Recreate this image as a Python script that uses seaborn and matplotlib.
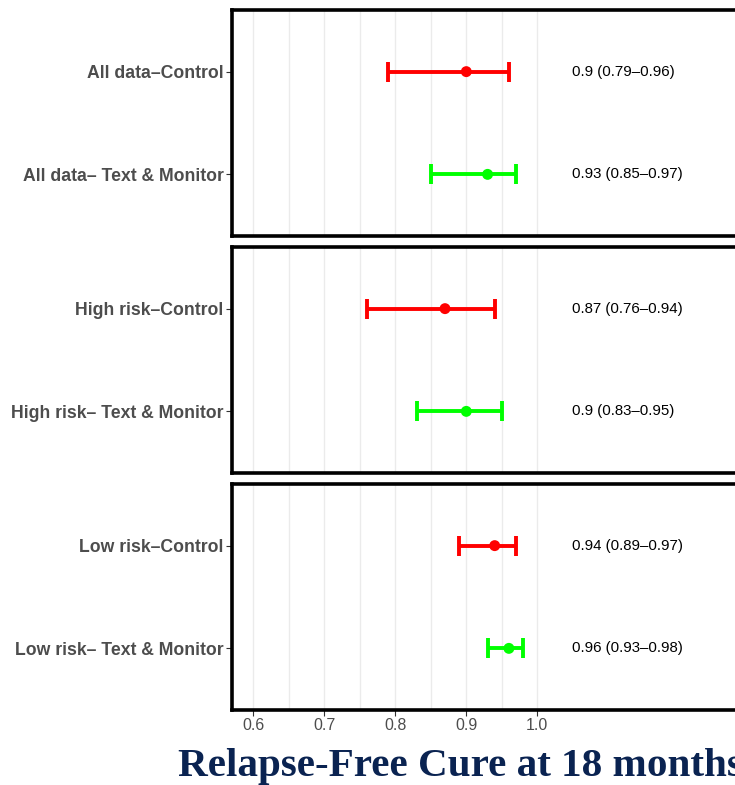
import matplotlib
matplotlib.use("Agg")
import matplotlib.pyplot as plt
import seaborn as sns
import pandas as pd

# Relapse-free cure estimates with 95% confidence intervals
groups = ["All data", "High risk", "Low risk"]
arms = ["Control", " Text & Monitor"]
estimate = [0.90, 0.93, 0.87, 0.90, 0.94, 0.96]
lower = [0.79, 0.85, 0.76, 0.83, 0.89, 0.93]
upper = [0.96, 0.97, 0.94, 0.95, 0.97, 0.98]
arm_colors = {"Control": "#FF0000", " Text & Monitor": "#00FF00"}
x_ticks = [0.6, 0.7, 0.8, 0.9, 1.0]
title = "Relapse-Free Cure at 18 months"

rows = []
i = 0
for g in groups:
    for j, a in enumerate(arms):
        rows.append(dict(group=g, arm=a, pos=j, est=estimate[i], lo=lower[i], hi=upper[i],
                         label=f"{g}\u2013{a}",
                         txt=f"{estimate[i]:g} ({lower[i]:g}\u2013{upper[i]:g})"))
        i += 1
df = pd.DataFrame(rows)

sns.set_theme(style="white")
plt.rcParams["font.family"] = ["Liberation Sans", "DejaVu Sans"]

W, H = 735, 785
fig = plt.figure(figsize=(W / 100, H / 100), dpi=100)

xmin, xmax = 0.57, 1.30
px_per_unit = 710
left_px = 232
panel_tops = [10, 247, 484]
panel_h = 226
ax_w = (xmax - xmin) * px_per_unit

for k, g in enumerate(groups):
    top = panel_tops[k]
    ax = fig.add_axes([left_px / W, 1 - (top + panel_h) / H, ax_w / W, panel_h / H])
    sub = df[df.group == g]

    # light vertical guides every 0.05 up to 1.0
    for gx in [0.6 + 0.05 * n for n in range(9)]:
        ax.axvline(gx, color="#EBEBEB", lw=1.0, zorder=0)

    for _, r in sub.iterrows():
        ax.errorbar(r.est, r.pos, xerr=[[r.est - r.lo], [r.hi - r.est]],
                    fmt="none", ecolor=arm_colors[r.arm], elinewidth=2.8,
                    capsize=7, capthick=2.8, zorder=2)
        ax.text(1.049, r.pos, r.txt, va="center", ha="left", fontsize=10.8, color="black")

    sns.scatterplot(data=sub, x="est", y="pos", hue="arm", palette=arm_colors,
                    s=62, edgecolor="none", legend=False, ax=ax, zorder=3)

    ax.set_xlim(xmin, xmax)
    ax.set_ylim(1.6, -0.6)
    ax.set_yticks([0, 1])
    ax.set_yticklabels(sub.label.tolist(), fontsize=12.7, fontweight="bold", color="#4D4D4D")
    ax.set_xlabel("")
    ax.set_ylabel("")
    ax.tick_params(axis="y", left=True, length=4, width=0.8, color="#333333", pad=2)
    if k == len(groups) - 1:
        ax.set_xticks(x_ticks)
        ax.set_xticklabels([f"{v:.1f}" for v in x_ticks], fontsize=11.5, color="#4D4D4D")
        ax.tick_params(axis="x", bottom=True, length=4, width=0.8, color="#333333", pad=2)
    else:
        ax.set_xticks([])
    for s in ax.spines.values():
        s.set_color("black")
        s.set_linewidth(2.6)

fig.text(178 / W, 1 - 776 / H, title, ha="left", va="baseline",
         fontsize=29.6, fontweight="bold", color="#0A2351",
         family=["Liberation Serif", "DejaVu Serif"])

fig.savefig("out.png", dpi=100)
